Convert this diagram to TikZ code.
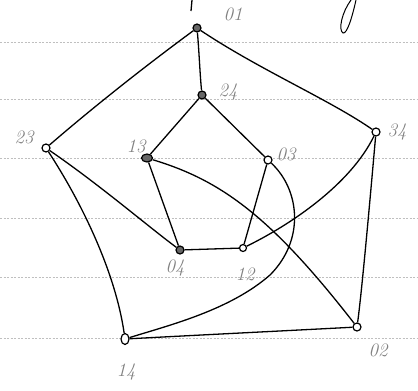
\documentclass[tikz,border=0pt]{standalone}
\usetikzlibrary{shapes.geometric}
\begin{document}
\begin{tikzpicture}[x=1pt,y=-1pt,
  vfill/.style={circle,draw=black,line width=1.2pt,fill=black!60,inner sep=0pt,minimum size=8pt},
  vopen/.style={circle,draw=black,line width=1.2pt,fill=white,inner sep=0pt,minimum size=8pt},
  edge/.style={line width=1.3pt,black},
  lbl/.style={text=black!50,font=\fontsize{19}{19}\selectfont\itshape,inner sep=0pt},
  rule/.style={black!25,line width=0.5pt,dash pattern=on 2pt off 1.5pt}]
\useasboundingbox (0,0) rectangle (418,391);
% ruled paper lines
\foreach \yy in {42,99,158,218,277,338} \draw[rule] (0,\yy) -- (418,\yy);
% stray pen strokes
\coordinate (s1) at (192,0); \coordinate (s2) at (191,11);
\draw[edge] (s1) -- (s2);
\coordinate (p1) at (356,0); \coordinate (p2) at (343,33); \coordinate (p3) at (351,0);
\draw[line width=1pt] (p1) .. controls (352,18) and (347,34) .. (p2) .. controls (338,30) and (342,12) .. (p3);
% vertices
\node[vfill] (v01) at (197,28) {};
\node[vfill] (v24) at (202,95) {};
\node[vopen] (v23) at (46,148) {};
\node[vopen] (v34) at (376,132) {};
\node[vfill,ellipse,minimum width=11pt,minimum height=8pt] (v13) at (147,158) {};
\node[vopen] (v03) at (268,160) {};
\node[vfill] (v04) at (180,250) {};
\node[vopen,minimum size=7pt] (v12) at (243,248) {};
\node[vopen,ellipse,minimum width=8pt,minimum height=11pt] (v14) at (125,339) {};
\node[vopen,minimum size=8pt] (v02) at (357,327) {};
% labels
\node[lbl] (l01) at (233,14) {01};
\node[lbl] (l24) at (228,92) {24};
\node[lbl] (l23) at (24,137) {23};
\node[lbl] (l34) at (397,132) {34};
\node[lbl] (l13) at (136,146) {13};
\node[lbl] (l03) at (286,154) {03};
\node[lbl] (l04) at (175,268) {04};
\node[lbl] (l12) at (245,274) {12};
\node[lbl] (l14) at (126,372) {14};
\node[lbl] (l02) at (378,350) {02};
% edges
\draw[edge] (v01) .. controls (199,50) and (200,75) .. (v24);
\draw[edge] (v01) .. controls (140,70) and (90,110) .. (v23);
\draw[edge] (v01) .. controls (260,70) and (330,100) .. (v34);
\draw[edge] (v24) -- (v13);
\draw[edge] (v24) -- (v03);
\draw[edge] (v23) .. controls (100,185) and (150,228) .. (v04);
\draw[edge] (v23) .. controls (80,200) and (115,270) .. (v14);
\draw[edge] (v13) -- (v04);
\draw[edge] (v13) .. controls (220,180) and (270,215) .. (v02);
\draw[edge] (v03) -- (v12);
\draw[edge] (v03) .. controls (300,190) and (305,240) .. (270,275) .. controls (230,310) and (170,325) .. (v14);
\draw[edge] (v04) -- (v12);
\draw[edge] (v12) .. controls (290,225) and (350,185) .. (v34);
\draw[edge] (v34) .. controls (370,200) and (362,290) .. (v02);
\draw[edge] (v14) .. controls (200,335) and (300,330) .. (v02);
\end{tikzpicture}
\end{document}
